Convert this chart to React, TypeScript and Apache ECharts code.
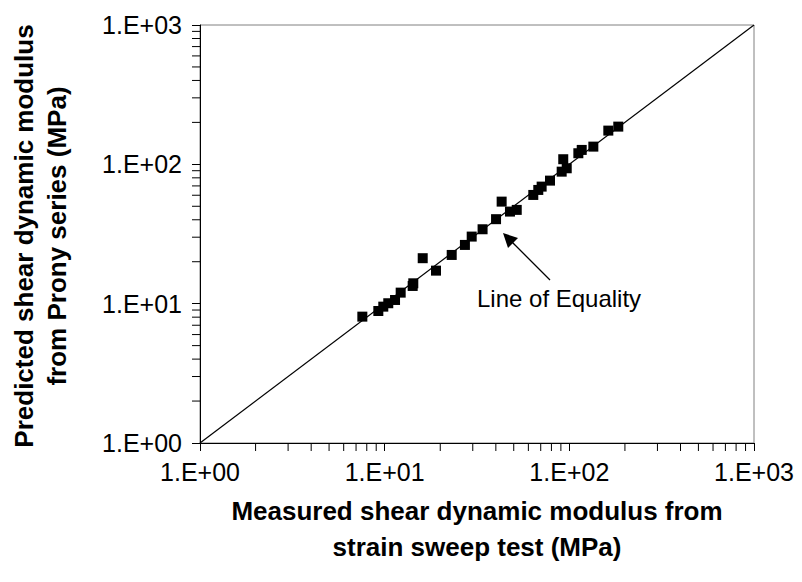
import React, { useEffect, useRef } from "react";
import * as echarts from "echarts";

const measured = [7.57, 9.24, 9.83, 10.46, 11.38, 12.21, 14.18, 14.29, 16.07, 18.97, 23.07, 27.2, 29.6, 33.9, 40.1, 43.0, 47.7, 51.9, 63.8, 67.9, 70.8, 78.6, 90.9, 92.7, 96.8, 111.9, 116.7, 134.9, 162.6, 184.1];
const predicted = [8.07, 8.86, 9.52, 10.07, 10.63, 12.0, 13.4, 14.0, 21.2, 17.26, 22.37, 26.4, 30.3, 34.2, 40.4, 54.0, 45.8, 47.1, 60.3, 65.5, 69.2, 76.4, 88.6, 108.8, 93.7, 120.1, 126.9, 134.0, 174.6, 186.5];
const equalityLine = [1, 1000];
const minorTickValues = [2, 3, 4, 5, 6, 7, 8, 9, 20, 30, 40, 50, 60, 70, 80, 90, 200, 300, 400, 500, 600, 700, 800, 900];
const xTitleLines = ["Measured shear dynamic modulus from", "strain sweep test (MPa)"];
const yTitleLines = ["Predicted shear dynamic modulus", "from Prony series (MPa)"];
const annotationText = "Line of Equality";

const FONT = "'Liberation Sans', Arial, sans-serif";

function fmt(v: number) {
  const e = Math.round(Math.log10(v));
  return "1.E" + (e >= 0 ? "+" : "-") + String(Math.abs(e)).padStart(2, "0");
}

export default function App() {
  const ref = useRef<HTMLDivElement>(null);
  useEffect(() => {
    if (!ref.current) return;
    const chart = echarts.init(ref.current, null, { renderer: "svg" });
    const tickLen = 8;
    const titleFont = `bold 26px ${FONT}`;
    chart.setOption({
      animation: false,
      backgroundColor: "#ffffff",
      grid: { left: 200, top: 25, right: 48, bottom: 139, show: true, borderColor: "#808080", borderWidth: 1, backgroundColor: "transparent" },
      xAxis: {
        type: "log", logBase: 10, min: 1, max: 1000,
        axisLine: { lineStyle: { color: "#000", width: 1 } },
        axisTick: { show: true, inside: false, length: tickLen, lineStyle: { color: "#000" } },
        splitLine: { show: false },
        axisLabel: { formatter: fmt, fontFamily: FONT, fontSize: 25, color: "#000", margin: 16 },
      },
      yAxis: {
        type: "log", logBase: 10, min: 1, max: 1000,
        axisLine: { lineStyle: { color: "#000", width: 1 } },
        axisTick: { show: true, inside: false, length: tickLen, lineStyle: { color: "#000" } },
        splitLine: { show: false },
        axisLabel: { formatter: fmt, fontFamily: FONT, fontSize: 25, color: "#000", margin: 18 },
      },
      series: [
        {
          type: "line",
          data: equalityLine.map((v) => [v, v]),
          showSymbol: false,
          lineStyle: { color: "#000", width: 1.2 },
          silent: true,
        },
        {
          type: "scatter",
          data: measured.map((x, i) => [x, predicted[i]]),
          symbol: "rect",
          symbolSize: 10,
          itemStyle: { color: "#000", opacity: 1 },
        },
        {
          type: "custom",
          silent: true,
          data: minorTickValues.map((v) => [v, 1]),
          renderItem: (params: any, api: any) => {
            const p = api.coord([api.value(0), 1]);
            return { type: "line", shape: { x1: p[0], y1: p[1], x2: p[0], y2: p[1] + tickLen }, style: { stroke: "#000", lineWidth: 1 } };
          },
        },
        {
          type: "custom",
          silent: true,
          data: minorTickValues.map((v) => [1, v]),
          renderItem: (params: any, api: any) => {
            const p = api.coord([1, api.value(1)]);
            return { type: "line", shape: { x1: p[0] - tickLen, y1: p[1], x2: p[0], y2: p[1] }, style: { stroke: "#000", lineWidth: 1 } };
          },
        },
      ],
      graphic: [
        { type: "text", x: 477, y: 511, style: { text: xTitleLines[0], font: titleFont, fill: "#000", textAlign: "center", textVerticalAlign: "middle" } },
        { type: "text", x: 477, y: 547, style: { text: xTitleLines[1], font: titleFont, fill: "#000", textAlign: "center", textVerticalAlign: "middle" } },
        { type: "text", x: 24, y: 236, rotation: Math.PI / 2, style: { text: yTitleLines[0], font: titleFont, fill: "#000", textAlign: "center", textVerticalAlign: "middle" } },
        { type: "text", x: 57, y: 236, rotation: Math.PI / 2, style: { text: yTitleLines[1], font: titleFont, fill: "#000", textAlign: "center", textVerticalAlign: "middle" } },
        { type: "text", x: 477, y: 298, style: { text: annotationText, font: `24px ${FONT}`, fill: "#000", textAlign: "left", textVerticalAlign: "middle" } },
        { type: "line", shape: { x1: 550, y1: 280, x2: 507, y2: 237 }, style: { stroke: "#000", lineWidth: 1.3 } },
        { type: "polygon", shape: { points: [[503, 233], [518, 238], [508, 248]] }, style: { fill: "#000" } },
      ],
    });
    return () => chart.dispose();
  }, []);
  return <div ref={ref} style={{ position: "fixed", left: 0, top: 0, width: 802, height: 582 }} />;
}
